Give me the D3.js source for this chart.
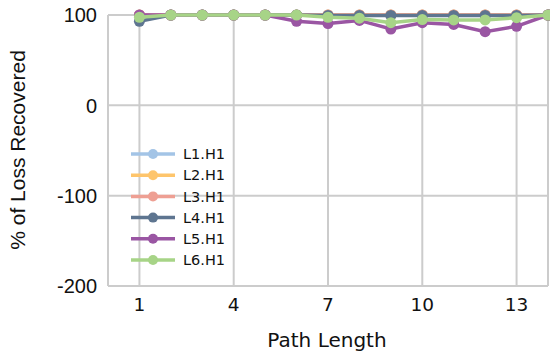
<!DOCTYPE html>
<html>
<head>
<meta charset="utf-8">
<script src="https://cdn.jsdelivr.net/npm/d3@7"></script>
<style>
  body { margin: 0; background: #fff; }
  svg { display: block; }
</style>
</head>
<body>
<svg width="550" height="354"></svg>
<script>

const pathLengths = [1, 2, 3, 4, 5, 6, 7, 8, 9, 10, 11, 12, 13, 14];
const seriesNames = ["L1.H1", "L2.H1", "L3.H1", "L4.H1", "L5.H1", "L6.H1"];
const seriesColors = ["#a3c4e6", "#fec56c", "#ee9f93", "#5e7590", "#9a56a3", "#a7d487"];
const seriesValues = [
  [100, 100, 100, 100, 100, 100, 100, 100, 100, 100, 100, 100, 100, 100],
  [100, 100, 100, 100, 100, 100, 100, 100, 100, 100, 100, 100, 100, 100],
  [100, 100, 100, 100, 100, 100, 100, 100, 100, 100, 100, 100, 100, 100],
  [93, 100, 100, 100, 100, 100, 99.5, 99.5, 99.5, 99.5, 99.5, 99.5, 99.5, 100],
  [100, 100, 100, 100, 100, 93, 90.5, 94, 84.5, 91.5, 89.5, 81.5, 87.5, 100],
  [97.5, 100, 100, 100, 100, 100, 97.5, 96.5, 91.5, 95, 94.5, 94.5, 97, 100]
];
const xTicks = [1, 4, 7, 10, 13];
const yTicks = [100, 0, -100, -200];

const svg = d3.select("svg");
const plotLeft = 108, plotRight = 548, plotTop = 15, plotBottom = 286;

const x = d3.scaleLinear().domain([0, 14]).range([plotLeft, plotRight]);
const y = d3.scaleLinear().domain([-200, 100]).range([plotBottom, plotTop]);

const grid = svg.append("g").style("stroke", "#cccccc").style("stroke-width", 2);

// horizontal grid lines
grid.selectAll(".hg").data(yTicks).enter().append("line")
  .attr("x1", plotLeft).attr("x2", plotRight)
  .attr("y1", d => y(d)).attr("y2", d => y(d))

// vertical grid lines
grid.selectAll(".vg").data(xTicks).enter().append("line")
  .attr("x1", d => x(d)).attr("x2", d => x(d))
  .attr("y1", plotTop).attr("y2", plotBottom)

grid.append("line").attr("x1", plotLeft).attr("x2", plotLeft).attr("y1", plotTop).attr("y2", plotBottom)
grid.append("line").attr("x1", plotRight).attr("x2", plotRight).attr("y1", plotTop).attr("y2", plotBottom)

// tick labels
svg.selectAll(".ylab").data(yTicks).enter().append("text")
  .attr("x", 97)
  .attr("y", d => y(d))
  .attr("dy", "0.36em")
  .attr("text-anchor", "end")
  .style("font-family", "'Liberation Sans', Arial, sans-serif")
  .style("font-size", "20px")
  .style("fill", "#111")
  .text(d => d)

svg.selectAll(".xlab").data(xTicks).enter().append("text")
  .attr("x", d => x(d))
  .attr("y", 311)
  .attr("text-anchor", "middle")
  .style("font-family", "'DejaVu Sans', sans-serif")
  .style("font-size", "18.5px")
  .style("fill", "#111")
  .text(d => d)

svg.append("text")
  .attr("x", 327)
  .attr("y", 347)
  .attr("text-anchor", "middle")
  .style("font-family", "'DejaVu Sans', sans-serif")
  .style("font-size", "20px")
  .style("fill", "#111")
  .text("Path Length")

svg.append("text")
  .attr("transform", "translate(25,150) rotate(-90)")
  .attr("text-anchor", "middle")
  .style("font-family", "'Liberation Sans', Arial, sans-serif")
  .style("font-size", "21px")
  .style("fill", "#111")
  .text("% of Loss Recovered")

// series
const line = d3.line().x((d, i) => x(pathLengths[i])).y(d => y(d));

const series = svg.selectAll(".series").data(seriesValues).enter().append("g")
  .attr("class", "series");

series.append("path")
  .attr("d", d => line(d))
  .style("fill", "none")
  .style("stroke", (d, i) => seriesColors[i])
  .style("stroke-width", 3.5)

series.each(function(vals, si) {
  d3.select(this).selectAll("circle").data(vals).enter().append("circle")
    .attr("cx", (d, i) => x(pathLengths[i]))
    .attr("cy", d => y(d))
    .attr("r", 5.5)
    .style("fill", seriesColors[si])
})

// legend
const legend = svg.append("g").attr("transform", "translate(131,154)");
const rows = legend.selectAll("g").data(seriesNames).enter().append("g")
  .attr("transform", (d, i) => "translate(0," + (i * 21.2) + ")");

rows.append("line")
  .attr("x1", 0).attr("x2", 44)
  .style("stroke", (d, i) => seriesColors[i])
  .style("stroke-width", 3.5)

rows.append("circle")
  .attr("cx", 22).attr("r", 5)
  .style("fill", (d, i) => seriesColors[i])

rows.append("text")
  .attr("x", 52)
  .attr("dy", "0.36em")
  .style("font-family", "'DejaVu Sans', sans-serif")
  .style("font-size", "14.5px")
  .style("fill", "#111")
  .text(d => d)

</script>
</body>
</html>
